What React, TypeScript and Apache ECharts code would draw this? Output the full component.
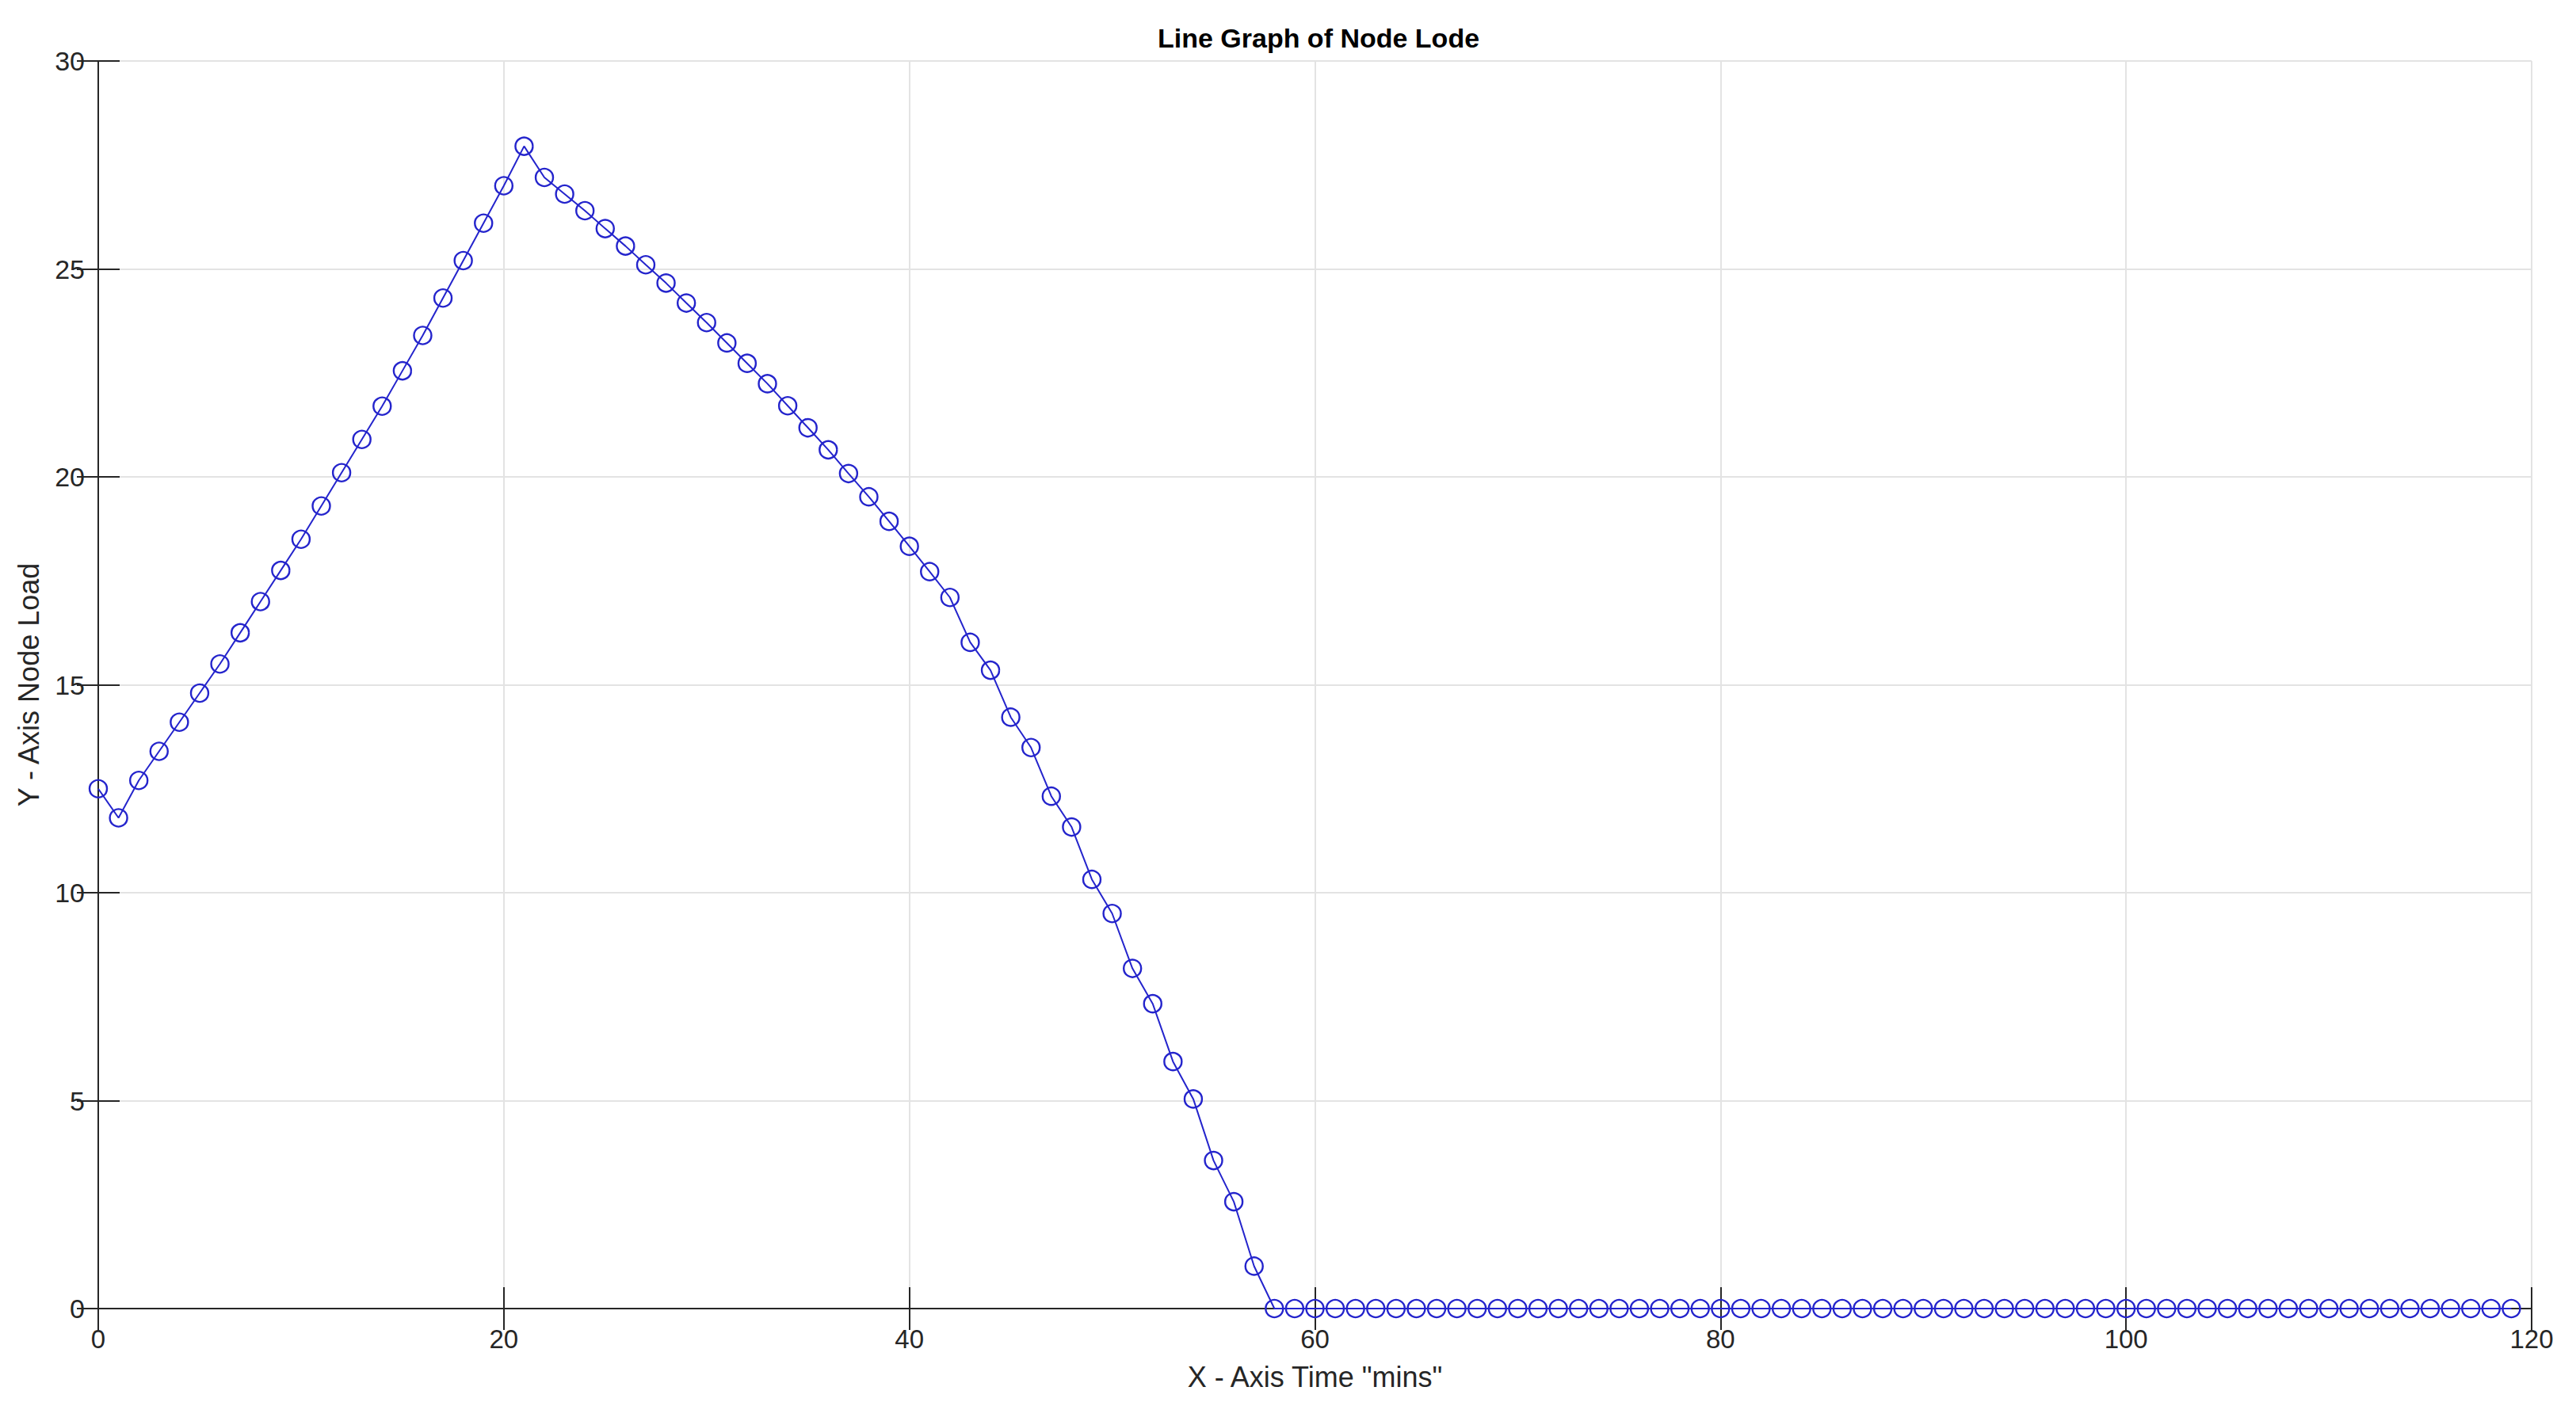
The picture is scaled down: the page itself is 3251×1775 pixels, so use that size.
import React, { useEffect, useRef } from "react";
import * as echarts from "echarts";

const titleText = "Line Graph of Node Lode";
const xAxisName = 'X - Axis Time "mins"';
const yAxisName = "Y - Axis Node Load";

// Node load per minute (minute = index, 0..119)
const nodeLoad: number[] = [
  12.5, 11.8, 12.7, 13.4, 14.1, 14.8, 15.5, 16.25, 17.0, 17.75,
  18.5, 19.3, 20.1, 20.9, 21.7, 22.55, 23.4, 24.3, 25.2, 26.1,
  27.0, 27.95, 27.2, 26.8, 26.4, 25.97, 25.55, 25.1, 24.66, 24.18,
  23.71, 23.22, 22.73, 22.24, 21.71, 21.18, 20.65, 20.08, 19.52, 18.93,
  18.33, 17.72, 17.1, 16.02, 15.35, 14.22, 13.49, 12.32, 11.58, 10.32,
  9.5, 8.18, 7.33, 5.94, 5.04, 3.56, 2.57, 1.02, 0, 0,
  0, 0, 0, 0, 0, 0, 0, 0, 0, 0,
  0, 0, 0, 0, 0, 0, 0, 0, 0, 0,
  0, 0, 0, 0, 0, 0, 0, 0, 0, 0,
  0, 0, 0, 0, 0, 0, 0, 0, 0, 0,
  0, 0, 0, 0, 0, 0, 0, 0, 0, 0,
  0, 0, 0, 0, 0, 0, 0, 0, 0, 0,
];

const xTicks = { min: 0, max: 120, interval: 20 };
const yTicks = { min: 0, max: 30, interval: 5 };

export default function App() {
  const ref = useRef<HTMLDivElement>(null);

  useEffect(() => {
    document.body.style.margin = "0";
    if (!ref.current) return;
    const chart = echarts.init(ref.current, undefined, { renderer: "svg" });
    const axisColor = "#262626";
    const font = "Liberation Sans";
    const blue = "#2424cc";

    const commonLine = { show: true, lineStyle: { color: axisColor, width: 2 } };
    const tick = { show: true, inside: true, length: 27, lineStyle: { color: axisColor, width: 2 } };

    chart.setOption({
      animation: false,
      backgroundColor: "#ffffff",
      title: {
        text: titleText,
        left: 1659,
        top: 26,
        textAlign: "center",
        textStyle: { fontFamily: font, fontWeight: "bold", fontSize: 34, color: "#000000" },
      },
      grid: { left: 124, right: 56, top: 77, bottom: 123, containLabel: false },
      xAxis: [
        {
          type: "value",
          position: "bottom",
          min: xTicks.min,
          max: xTicks.max,
          interval: xTicks.interval,
          name: xAxisName,
          nameLocation: "middle",
          nameGap: 68,
          nameTextStyle: { fontFamily: font, fontSize: 36, color: axisColor },
          axisLine: commonLine,
          axisTick: tick,
          axisLabel: { fontFamily: font, fontSize: 33, color: axisColor, margin: 22 },
          splitLine: { show: true, lineStyle: { color: "#e3e3e3", width: 2 } },
        },
        {
          type: "value",
          position: "top",
          min: xTicks.min,
          max: xTicks.max,
          interval: xTicks.interval,
          axisLine: commonLine,
          axisTick: tick,
          axisLabel: { show: false },
          splitLine: { show: false },
        },
      ],
      yAxis: [
        {
          type: "value",
          position: "left",
          min: yTicks.min,
          max: yTicks.max,
          interval: yTicks.interval,
          name: yAxisName,
          nameLocation: "middle",
          nameGap: 70,
          nameTextStyle: { fontFamily: font, fontSize: 36, color: axisColor },
          axisLine: commonLine,
          axisTick: tick,
          axisLabel: { fontFamily: font, fontSize: 34, color: axisColor, margin: 17 },
          splitLine: { show: true, lineStyle: { color: "#e3e3e3", width: 2 } },
        },
        {
          type: "value",
          position: "right",
          min: yTicks.min,
          max: yTicks.max,
          interval: yTicks.interval,
          axisLine: commonLine,
          axisTick: tick,
          axisLabel: { show: false },
          splitLine: { show: false },
        },
      ],
      series: [
        {
          type: "line",
          xAxisIndex: 0,
          yAxisIndex: 0,
          data: nodeLoad.map((v, i) => [i, v]),
          symbol: "circle",
          symbolSize: 22,
          showAllSymbol: true,
          clip: false,
          lineStyle: { color: blue, width: 2 },
          itemStyle: { color: "rgba(0,0,0,0)", borderColor: blue, borderWidth: 2.4 },
          z: 5,
        },
      ],
    });
    return () => chart.dispose();
  }, []);

  return <div ref={ref} style={{ width: 3251, height: 1775 }} />;
}
